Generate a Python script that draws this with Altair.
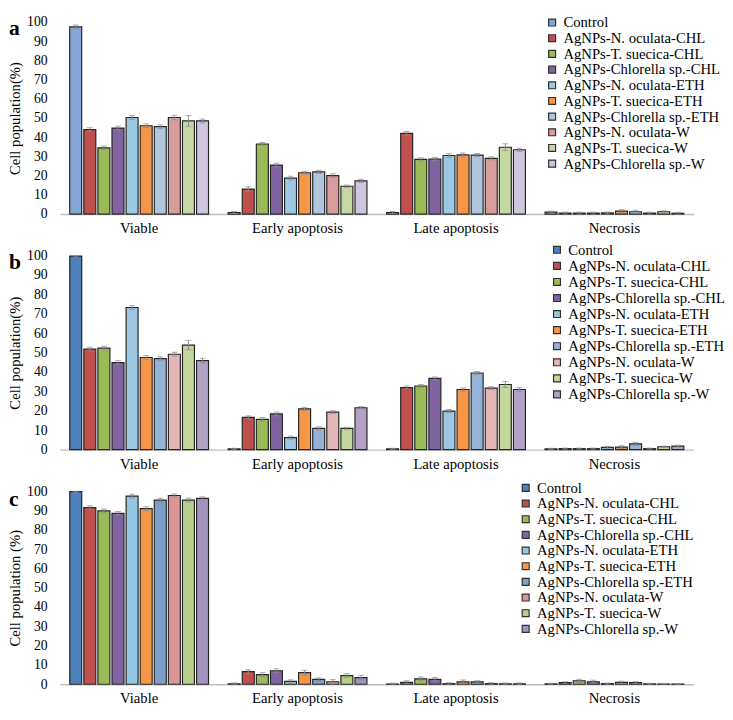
import altair as alt
import pandas as pd

categories = ["Viable", "Early apoptosis", "Late apoptosis", "Necrosis"]
series = ["Control", "AgNPs-N. oculata-CHL", "AgNPs-T. suecica-CHL", "AgNPs-Chlorella sp.-CHL",
          "AgNPs-N. oculata-ETH", "AgNPs-T. suecica-ETH", "AgNPs-Chlorella sp.-ETH",
          "AgNPs-N. oculata-W", "AgNPs-T. suecica-W", "AgNPs-Chlorella sp.-W"]
panel_letters = ["a", "b", "c"]
y_titles = ["Cell population(%)", "Cell population(%)", "Cell population (%)"]
y_ticks = [0, 10, 20, 30, 40, 50, 60, 70, 80, 90, 100]

# Panel a values / errors
a_viable = [97.5, 44, 34.5, 44.8, 50.3, 46, 45.5, 50.3, 48.5, 48.5]
a_early = [0.8, 13, 36.5, 25.5, 18.7, 21.5, 22, 20, 14.5, 17.3]
a_late = [0.8, 42, 28.5, 28.7, 30.5, 30.8, 30.7, 29, 34.8, 33.5]
a_necrosis = [1, 0.5, 0.5, 0.5, 0.6, 1.5, 1.2, 0.5, 1.2, 0.4]
a_viable_err = [1, 1, 1, 1, 1, 1, 1, 1.2, 2.8, 1]
a_early_err = [0.5, 1.2, 0.8, 1, 1, 0.8, 0.8, 1, 0.6, 0.8]
a_late_err = [0.5, 1, 0.8, 0.8, 1, 1, 0.8, 0.8, 1.8, 0.8]
a_necrosis_err = [0.5, 0.5, 0.5, 0.5, 0.5, 0.8, 0.8, 0.5, 0.5, 0.5]

# Panel b values / errors
b_viable = [99.8, 51.8, 52.3, 44.9, 73.3, 47.5, 46.9, 49.2, 53.9, 45.9]
b_early = [0.4, 16.6, 15.6, 18.4, 6.2, 21, 11, 19.3, 11, 21.6]
b_late = [0.4, 32, 32.8, 36.7, 19.9, 31, 39.5, 31.7, 33.6, 31]
b_necrosis = [0.4, 0.5, 0.5, 0.5, 1.2, 1.3, 3, 0.5, 1.5, 1.8]
b_viable_err = [0.3, 1, 1, 1, 1, 1, 1, 1, 2.5, 1.2]
b_early_err = [0.3, 0.8, 1, 1, 0.8, 0.8, 0.8, 0.8, 0.5, 0.6]
b_late_err = [0.3, 0.8, 0.8, 0.8, 0.8, 0.8, 0.8, 0.8, 1.5, 1]
b_necrosis_err = [0.3, 0.3, 0.3, 0.3, 0.5, 0.7, 0.8, 0.3, 0.3, 0.5]

# Panel c values / errors
c_viable = [99.8, 91.5, 89.8, 88.5, 97.5, 91, 95.4, 97.8, 95.4, 96.3]
c_early = [0.2, 6.5, 5, 7, 1.5, 6, 2.5, 1.3, 4.5, 3.4]
c_late = [0.1, 1, 2.8, 2.5, 0.3, 1.2, 1.2, 0.3, 0.2, 0.2]
c_necrosis = [0.2, 0.8, 1.8, 1.3, 0.3, 1, 0.8, 0.2, 0.1, 0.1]
c_viable_err = [0.2, 1, 1, 1, 1, 1, 1, 0.8, 1, 0.8]
c_early_err = [0.5, 1, 1, 1, 0.8, 1.2, 0.8, 1.2, 1, 1.2]
c_late_err = [0.5, 0.8, 1, 1, 0.5, 1, 0.6, 0.5, 0.5, 0.5]
c_necrosis_err = [0.3, 0.5, 0.8, 0.8, 0.3, 0.6, 0.5, 0.3, 0.3, 0.3]

colors_a = ["#84A8D6", "#C0504D", "#9BBB59", "#8064A2", "#9DC8E2", "#F79646",
            "#B2C5DF", "#D79C9B", "#C6D9A4", "#CFC6DD"]
colors_b = ["#4F81BD", "#C0504D", "#9BBB59", "#8064A2", "#9DC6E0", "#F79646",
            "#95B3D7", "#E2B7B6", "#C3D69B", "#B3A2C7"]
colors_c = ["#4F81BD", "#C0504D", "#9BBB59", "#8064A2", "#93C6E0", "#F79646",
            "#7F9FCB", "#D99694", "#B8CF8A", "#A393BD"]

font = "Liberation Serif"
label_expr = ("(indexof(datum.label, 'oculata') >= 0 || indexof(datum.label, 'Chlorella') >= 0) "
              "? '\u00a0' + datum.label : datum.label")


def make_df(vals, errs):
    rows = []
    for cat, v_list, e_list in zip(categories, vals, errs):
        for s, v, e in zip(series, v_list, e_list):
            rows.append({"category": cat, "series": s, "value": v,
                         "lo": max(v - e, 0), "hi": v + e})
    return pd.DataFrame(rows)


def panel(df, letter, colors, height, ytitle, lx, ly, rowpad, letter_y):
    base = alt.Chart(df)
    x = alt.X("category:N", sort=categories,
              scale=alt.Scale(paddingInner=0.124, paddingOuter=0.062),
              axis=alt.Axis(title=None, labelAngle=0, labelFont=font, labelFontSize=15,
                            labelColor="black", labelPadding=7, ticks=False,
                            domainColor="#BFBFBF", domainWidth=1.5))
    xo = alt.XOffset("series:N", sort=series,
                     scale=alt.Scale(paddingInner=0.15, paddingOuter=0))
    yscale = alt.Scale(domain=[0, 100], nice=False, zero=True)
    yaxis = alt.Axis(title=ytitle, values=y_ticks, grid=False,
                     domain=False, ticks=False, labelOverlap=False, labelFont=font,
                     labelFontSize=14, labelColor="black", labelPadding=13,
                     titleFont=font, titleFontSize=15, titleFontWeight="normal",
                     titleColor="black", titleX=-38, titleY=height / 2)
    bars = base.mark_bar(stroke="#262626", strokeWidth=1.2).encode(
        x=x, xOffset=xo, y=alt.Y("value:Q", scale=yscale, axis=yaxis),
        fill=alt.Fill("series:N", sort=series,
                      scale=alt.Scale(domain=series, range=colors),
                      legend=alt.Legend(title=None, orient="none", legendX=lx, legendY=ly,
                                        symbolType="square", symbolSize=50,
                                        symbolStrokeColor="#303030", symbolStrokeWidth=1.2,
                                        labelFont=font, labelFontSize=15, labelColor="black",
                                        labelOffset=4, rowPadding=rowpad, labelLimit=300,
                                        labelExpr=label_expr, padding=0)))
    err = base.mark_rule(color="#8C8C8C", strokeWidth=1).encode(
        x=x, xOffset=xo, y=alt.Y("lo:Q", scale=yscale, axis=yaxis), y2="hi:Q")
    cap_hi = base.mark_tick(color="#8C8C8C", size=6, thickness=1).encode(
        x=x, xOffset=xo, y=alt.Y("hi:Q", scale=yscale, axis=yaxis))
    cap_lo = base.mark_tick(color="#8C8C8C", size=6, thickness=1).encode(
        x=x, xOffset=xo, y=alt.Y("lo:Q", scale=yscale, axis=yaxis))
    lab = alt.Chart(pd.DataFrame({"t": [letter]})).mark_text(
        font=font, fontSize=22, fontWeight="bold", align="left", baseline="middle",
        color="black").encode(text="t:N", x=alt.value(-52), y=alt.value(letter_y))
    return alt.layer(bars, err, cap_hi, cap_lo, lab).properties(width=647, height=height)


df_a = make_df([a_viable, a_early, a_late, a_necrosis],
               [a_viable_err, a_early_err, a_late_err, a_necrosis_err])
df_b = make_df([b_viable, b_early, b_late, b_necrosis],
               [b_viable_err, b_early_err, b_late_err, b_necrosis_err])
df_c = make_df([c_viable, c_early, c_late, c_necrosis],
               [c_viable_err, c_early_err, c_late_err, c_necrosis_err])

pa = panel(df_a, panel_letters[0], colors_a, 196, y_titles[0], 495, -7, 0, 6.5)
pb = panel(df_b, panel_letters[1], colors_b, 198, y_titles[1], 500, -13.5, 0.4, 7)
pc = panel(df_c, panel_letters[2], colors_c, 197, y_titles[2], 468, -11, -0.6, 8.5)

chart = alt.vconcat(pa, pb, pc, spacing=42.5, bounds="flush").resolve_scale(
    fill="independent").properties(padding=0).configure(font=font).configure_view(
    strokeWidth=0)

chart.save("out.html", embed_options={"renderer": "svg", "actions": False})
